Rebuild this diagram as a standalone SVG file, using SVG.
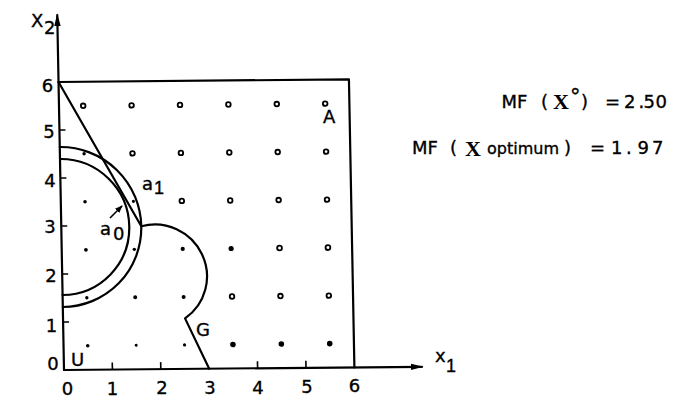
<svg xmlns="http://www.w3.org/2000/svg" width="691" height="409" viewBox="0 0 691 409">
<style>
.ln{fill:none;stroke:#000;stroke-width:2.2;stroke-linecap:round;stroke-linejoin:round}
.tk{stroke:#000;stroke-width:1.6}
.ring{fill:#fff;stroke:#000;stroke-width:1.8}
.dot{fill:#000}
text{font-family:"DejaVu Sans","Liberation Sans",sans-serif;font-size:18px;fill:#000;stroke:#000;stroke-width:0.35}
.vx{font-family:"Liberation Serif",serif;font-weight:bold;font-size:22px;stroke-width:0}
.sub{font-family:"Liberation Sans",sans-serif}
</style>
<defs>
<marker id="axh" markerUnits="userSpaceOnUse" markerWidth="13" markerHeight="8" refX="11" refY="4" orient="auto" viewBox="0 0 13 8"><path d="M0,0.8 L12.5,4 L0,7.2 z" fill="#000"/></marker>
<marker id="sah" markerUnits="userSpaceOnUse" markerWidth="8" markerHeight="6" refX="7" refY="3" orient="auto" viewBox="0 0 8 6"><path d="M0,0 L8,3 L0,6 z" fill="#000"/></marker>
</defs>
<rect width="691" height="409" fill="#fff"/>
<g id="plot" transform="matrix(1,-0.009,0.019,1,-7.03,0.576)">
<g id="axes">
<line class="ln" x1="64" y1="370" x2="64" y2="15" marker-end="url(#axh)"/>
<line class="ln" x1="64" y1="370" x2="422" y2="370" marker-end="url(#axh)"/>
<g id="ticks">
<line class="tk" x1="64" y1="322" x2="70" y2="322"/>
<line class="tk" x1="64" y1="274" x2="70" y2="274"/>
<line class="tk" x1="64" y1="226" x2="70" y2="226"/>
<line class="tk" x1="64" y1="178" x2="70" y2="178"/>
<line class="tk" x1="64" y1="130" x2="70" y2="130"/>
<line class="tk" x1="112.4" y1="370" x2="112.4" y2="363"/>
<line class="tk" x1="160.8" y1="370" x2="160.8" y2="363"/>
<line class="tk" x1="257.6" y1="370" x2="257.6" y2="363"/>
<line class="tk" x1="306" y1="370" x2="306" y2="363"/>
</g>
</g>
<g id="region">
<path class="ln" d="M64,82 H354.4 V370"/>
<path class="ln" d="M64,82 L144,227"/>
<path id="G" class="ln" d="M144,227 A51.5,51.5 0 0 1 186,319.5 L209.2,370"/>
</g>
<g id="circles">
<path id="a1" class="ln" d="M64,147 A80,80 0 0 1 64,307"/>
<path id="a0" class="ln" d="M64,159 A68,68 0 0 1 64,295"/>
</g>
<g id="grid">
<circle class="ring" cx="88.2" cy="106" r="2.3"/>
<circle class="ring" cx="136.6" cy="106" r="2.3"/>
<circle class="ring" cx="185" cy="106" r="2.3"/>
<circle class="ring" cx="233.4" cy="106" r="2.3"/>
<circle class="ring" cx="281.8" cy="106" r="2.3"/>
<circle class="ring" cx="330.2" cy="106" r="2.3"/>
<circle class="dot" cx="88.2" cy="154" r="1.7"/>
<circle class="ring" cx="136.6" cy="154" r="2.3"/>
<circle class="ring" cx="185" cy="154" r="2.3"/>
<circle class="ring" cx="233.4" cy="154" r="2.3"/>
<circle class="ring" cx="281.8" cy="154" r="2.3"/>
<circle class="ring" cx="330.2" cy="154" r="2.3"/>
<circle class="dot" cx="88.2" cy="202" r="1.8"/>
<circle class="dot" cx="136.6" cy="202" r="1.6"/>
<circle class="ring" cx="185" cy="202" r="2.3"/>
<circle class="ring" cx="233.4" cy="202" r="2.3"/>
<circle class="ring" cx="281.8" cy="202" r="2.3"/>
<circle class="ring" cx="330.2" cy="202" r="2.3"/>
<circle class="dot" cx="88.2" cy="250" r="1.9"/>
<circle class="dot" cx="136.6" cy="250" r="1.7"/>
<circle class="dot" cx="185" cy="250" r="2.1"/>
<circle class="dot" cx="233.4" cy="250" r="2.6"/>
<circle class="ring" cx="281.8" cy="250" r="2.4"/>
<circle class="ring" cx="330.2" cy="250" r="2.4"/>
<circle class="dot" cx="88.2" cy="298" r="1.7"/>
<circle class="dot" cx="136.6" cy="298" r="2"/>
<circle class="dot" cx="185" cy="298" r="2"/>
<circle class="ring" cx="233.4" cy="298" r="2.3"/>
<circle class="ring" cx="281.8" cy="298" r="2.3"/>
<circle class="ring" cx="330.2" cy="298" r="2.3"/>
<circle class="dot" cx="88.2" cy="346" r="1.8"/>
<circle class="dot" cx="136.6" cy="346" r="1.5"/>
<circle class="dot" cx="185" cy="346" r="1.6"/>
<circle class="dot" cx="233.4" cy="346" r="2.8"/>
<circle class="dot" cx="281.8" cy="346" r="2.8"/>
<circle class="dot" cx="330.2" cy="346" r="2.8"/>
</g>
</g>
<g id="connectors">
<line class="tk" x1="110" y1="218" x2="122" y2="206" marker-end="url(#sah)"/>
</g>
<g id="labels">
<text x="31" y="27" font-size="17">X</text>
<text x="44" y="34" font-size="14">2</text>
<text x="435" y="362">x</text>
<text class="sub" x="446" y="372">1</text>
<g text-anchor="middle">
<text x="47.5" y="92">6</text>
<text x="49" y="138">5</text>
<text x="50" y="187">4</text>
<text x="50" y="233">3</text>
<text x="51" y="282">2</text>
<text x="51.5" y="332">1</text>
<text x="53" y="370">0</text>
<text x="67.5" y="395">0</text>
<text x="112.5" y="395">1</text>
<text x="162" y="394">2</text>
<text x="210" y="394">3</text>
<text x="258" y="393.5">4</text>
<text x="307" y="393">5</text>
<text x="354.5" y="392">6</text>
</g>
<text x="71" y="366">U</text>
<text x="323" y="123">A</text>
<text x="196" y="336">G</text>
<text x="142" y="190" font-size="19">a</text>
<text class="sub" x="154" y="193.5" font-size="11">1</text>
<text x="100" y="235" font-size="20">a</text>
<text x="113" y="240" font-size="13">0</text>
<text id="mf0" y="107.5"><tspan x="501.5">MF</tspan><tspan x="541">(</tspan><tspan class="vx" x="553" y="109">X</tspan><tspan x="570" y="104" font-size="21">°</tspan><tspan x="581" y="107.5">)</tspan><tspan x="605">=</tspan><tspan x="624 638.5 643.5 655.5">2.50</tspan></text>
<text id="mfopt" y="154"><tspan x="412">MF</tspan><tspan x="450">(</tspan><tspan class="vx" x="465" y="155.5">X</tspan><tspan x="487" y="154" font-size="16">optimum</tspan><tspan x="564" font-size="18">)</tspan><tspan x="590">=</tspan><tspan x="611 626 637.5 652">1.97</tspan></text>
</g>
</svg>
